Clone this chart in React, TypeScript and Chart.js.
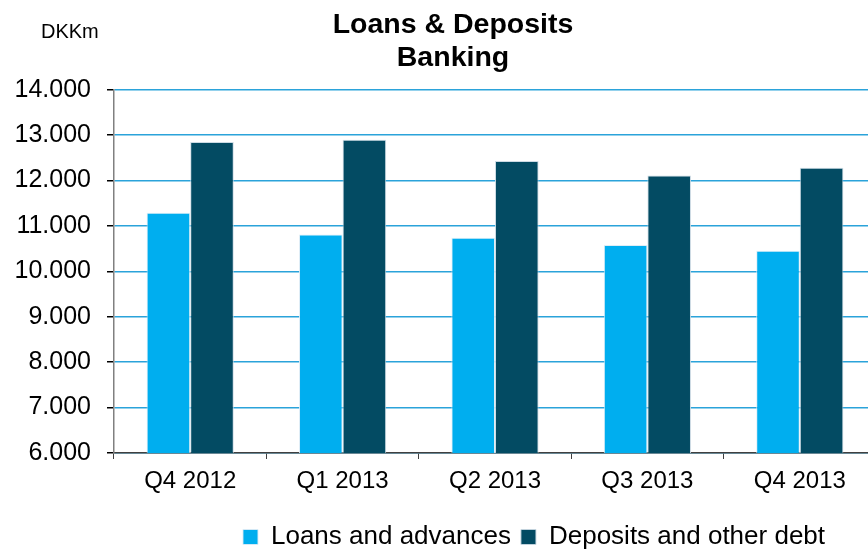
import React, { useEffect, useRef } from "react";
import { Chart, registerables } from "chart.js";

Chart.register(...registerables);

const categories = ["Q4 2012", "Q1 2013", "Q2 2013", "Q3 2013", "Q4 2013"];
const loans = [11290, 10810, 10740, 10580, 10455];
const deposits = [12850, 12895, 12430, 12110, 12280];
const seriesNames = ["Loans and advances", "Deposits and other debt"];
const titleLines = ["Loans & Deposits", "Banking"];
const unitLabel = "DKKm";
const yMin = 6000;
const yMax = 14000;
const yStep = 1000;

const FONT = "'Liberation Sans', Arial, sans-serif";

const fmt = (v: number) => {
  const s = Math.round(v).toString();
  return s.replace(/\B(?=(\d{3})+(?!\d))/g, ".");
};

const extrasPlugin = {
  id: "extras",
  beforeDraw(chart: any) {
    const lg = chart.legend;
    if (lg && !lg._shifted) {
      const dx = 96;
      const dy = 15;
      lg.left += dx;
      lg.right += dx;
      lg.top += dy;
      lg.bottom += dy;
      lg._shifted = true;
    }
    const tt = chart.titleBlock;
    if (tt && !tt._shifted) {
      tt.left += 15;
      tt.right += 15;
      tt._shifted = true;
    }
  },
  afterDraw(chart: any) {
    const ctx = chart.ctx;
    ctx.save();
    ctx.font = `20px ${FONT}`;
    ctx.fillStyle = "#000";
    ctx.textAlign = "left";
    ctx.textBaseline = "middle";
    ctx.fillText(unitLabel, 41, 32);
    ctx.restore();
  },
};

export default function App() {
  const ref = useRef<HTMLCanvasElement>(null);
  useEffect(() => {
    if (!ref.current) return;
    const chart = new Chart(ref.current, {
      type: "bar",
      data: {
        labels: categories,
        datasets: [
          {
            label: seriesNames[0],
            data: loans,
            backgroundColor: "#00AEEF",
            borderColor: "rgba(220,235,245,0.9)",
            borderWidth: 1,
            barPercentage: 1,
            categoryPercentage: 0.572,
          },
          {
            label: seriesNames[1],
            data: deposits,
            backgroundColor: "#034B63",
            borderColor: "rgba(200,215,225,0.9)",
            borderWidth: 1,
            barPercentage: 1,
            categoryPercentage: 0.572,
          },
        ],
      },
      plugins: [extrasPlugin],
      options: {
        animation: false,
        responsive: false,
        maintainAspectRatio: false,
        layout: { padding: { left: 0, right: 30, top: 6, bottom: 4 } },
        plugins: {
          title: {
            display: true,
            text: titleLines,
            color: "#000",
            font: { family: FONT, size: 28.5, weight: "bold", lineHeight: 1.17 },
            padding: { top: 2, bottom: 15 },
          },
          legend: {
            display: true,
            position: "bottom",
            labels: {
              color: "#000",
              font: { family: FONT, size: 26 },
              boxWidth: 15,
              boxHeight: 15,
              padding: 10,
            },
          },
          tooltip: { enabled: false },
        },
        scales: {
          x: {
            offset: true,
            afterFit: (scale: any) => {
              scale.height = 46;
            },
            grid: {
              display: true,
              offset: true,
              drawOnChartArea: false,
              drawTicks: true,
              tickLength: 6,
              tickColor: "#404040",
              color: "#404040",
            },
            border: { display: true, color: "#404040", width: 1.5 },
            ticks: {
              color: "#000",
              font: { family: FONT, size: 24 },
              padding: 8,
            },
          },
          y: {
            min: yMin,
            max: yMax,
            afterFit: (scale: any) => {
              scale.width = 114;
            },
            grid: {
              color: "#2BA3DA",
              lineWidth: 1.5,
              drawTicks: true,
              tickLength: 7,
              tickColor: "#000",
            },
            border: { display: true, color: "#808080", width: 1.5 },
            ticks: {
              stepSize: yStep,
              color: "#000",
              font: { family: FONT, size: 25 },
              padding: 16,
              callback: (v: any) => fmt(Number(v)),
            },
          },
        },
      },
    });
    return () => chart.destroy();
  }, []);
  return (
    <div style={{ position: "absolute", left: 0, top: 0, width: 906, height: 549 }}>
      <canvas ref={ref} width={906} height={549} style={{ width: 906, height: 549 }} />
    </div>
  );
}
